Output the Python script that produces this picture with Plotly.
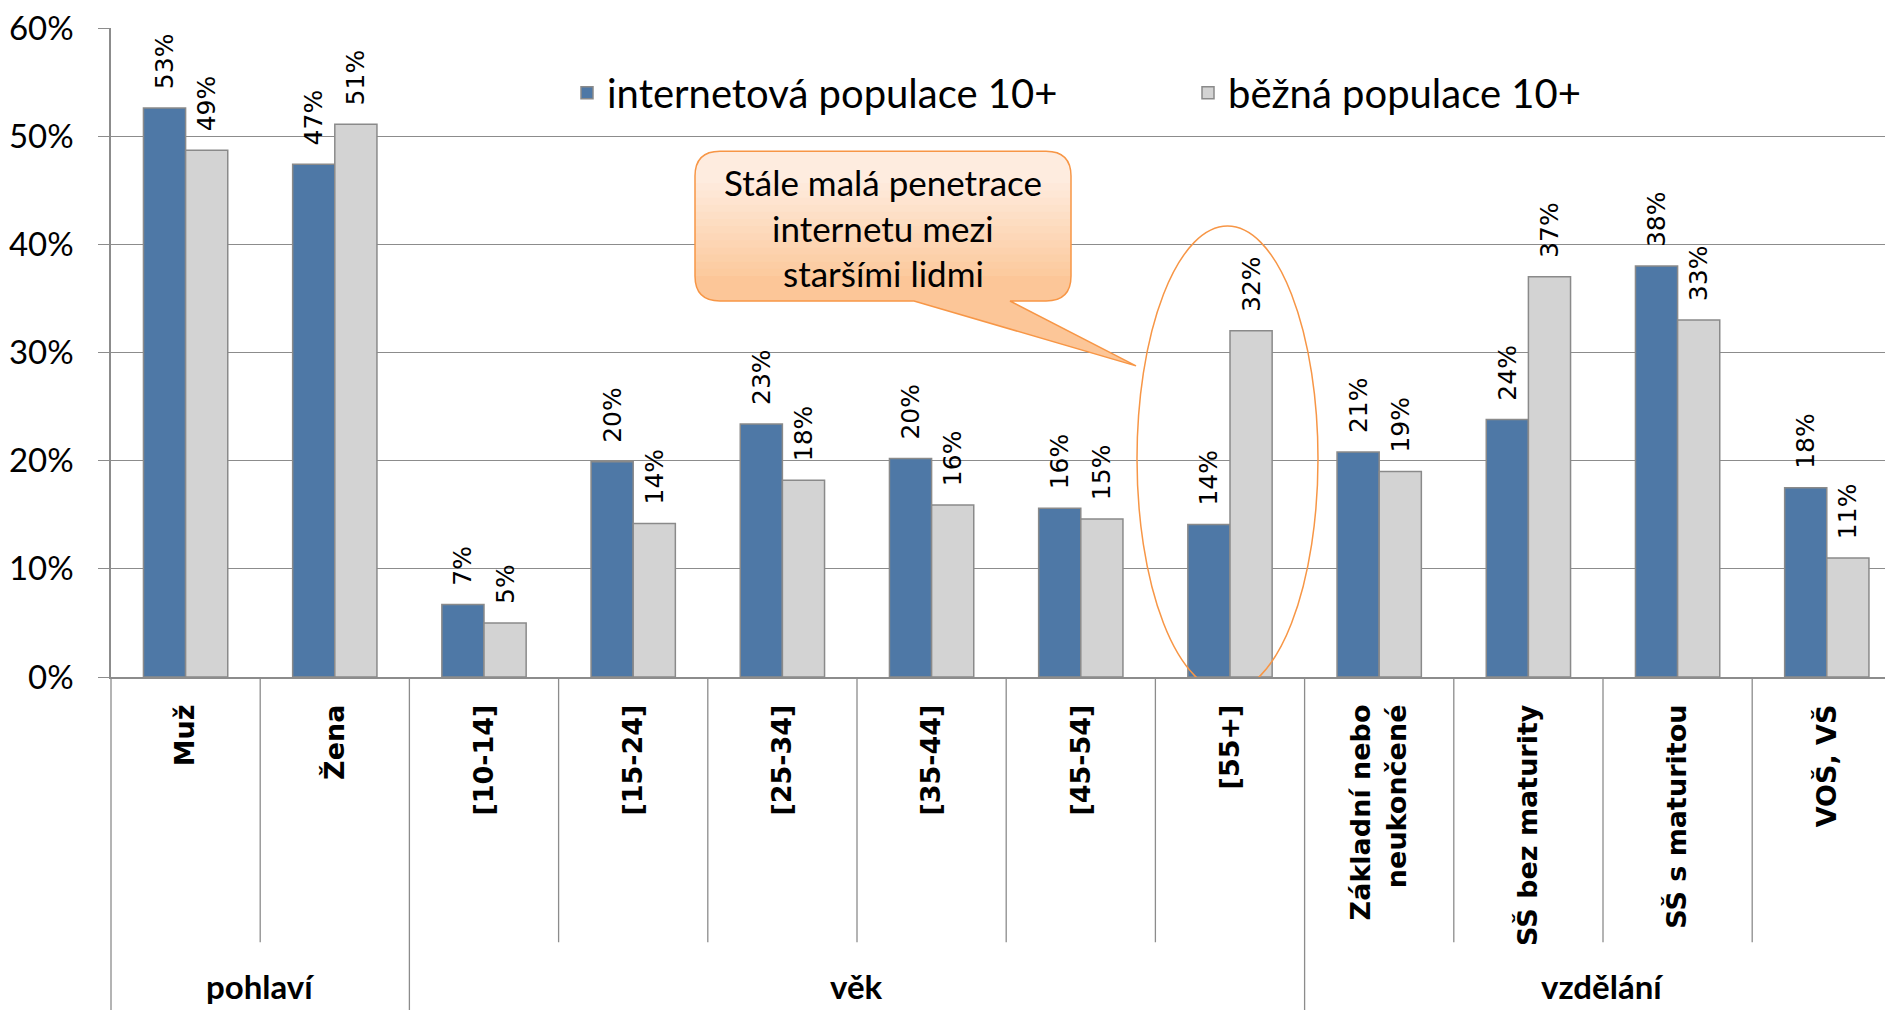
import plotly.graph_objects as go

# categories and values
categories = ["Muž", "Žena", "[10-14]", "[15-24]", "[25-34]", "[35-44]", "[45-54]", "[55+]",
              "Základní nebo<br>neukončené", "SŠ bez maturity", "SŠ s maturitou", "VOŠ, VŠ"]
internet_pop = [0.526, 0.474, 0.067, 0.199, 0.234, 0.202, 0.156, 0.141, 0.208, 0.238, 0.380, 0.175]
general_pop = [0.487, 0.511, 0.050, 0.142, 0.182, 0.159, 0.146, 0.320, 0.190, 0.370, 0.330, 0.110]
series_names = ["internetová populace 10+", "běžná populace 10+"]
groups = ["pohlaví", "věk", "vzdělání"]
group_spans = [(0, 1), (2, 7), (8, 11)]
callout_lines = ["Stále malá penetrace", "internetu mezi", "staršími lidmi"]

W, H = 1885, 1011
L, B, T = 111, 677.5, 27.7
CW = 149.2                       # px per category
X_MAX = (W - L) / CW - 0.5
Y_MAX = 0.6
PPU = (B - T) / Y_MAX


def X(p):
    return (p - L) / CW - 0.5


def Y(p):
    return (B - p) / PPU


def PY(p):
    # pixel row -> paper y
    return (B - p) / (B - T)


label_font = dict(family="DejaVu Sans", size=25, color="black")

fig = go.Figure()
fig.add_trace(go.Bar(
    x=categories, y=internet_pop, name=series_names[0],
    marker=dict(color="#4E78A6", line=dict(color="#8A8A8A", width=1.5)),
    texttemplate="\u00a0\u00a0%{y:.0%}", textposition="outside", textangle=-90,
    textfont=label_font, constraintext="none", cliponaxis=False,
))
fig.add_trace(go.Bar(
    x=categories, y=general_pop, name=series_names[1],
    marker=dict(color="#D3D3D3", line=dict(color="#8A8A8A", width=1.5)),
    texttemplate="\u00a0\u00a0%{y:.0%}", textposition="outside", textangle=-90,
    textfont=label_font, constraintext="none", cliponaxis=False,
))

shapes = []
grey = "#8C8C8C"

# category separators below the axis (multi-level category axis look)
n_cat = len(categories)
for b in range(0, n_cat + 1):
    bottom = H if b in (0, 2, 8, 12) else 943
    xp = b / (X_MAX + 0.5)
    if xp > 1:
        continue
    shapes.append(dict(type="line", xref="paper", yref="paper", x0=xp, x1=xp,
                       y0=0, y1=PY(bottom), line=dict(color=grey, width=1.3), layer="above"))

# callout box with gradient
left, right, top, bot, r = 695, 1071, 151, 301, 25
tip = (1136, 366)
base0, base1 = 914, 1010


def pt(px, py):
    return f"{X(px):.5f},{Y(py):.5f}"


outline = (f"M{pt(left + r, top)} L{pt(right - r, top)} Q{pt(right, top)} {pt(right, top + r)} "
           f"L{pt(right, bot - r)} Q{pt(right, bot)} {pt(right - r, bot)} L{pt(base1, bot)} "
           f"L{pt(*tip)} L{pt(base0, bot)} L{pt(left + r, bot)} Q{pt(left, bot)} {pt(left, bot - r)} "
           f"L{pt(left, top + r)} Q{pt(left, top)} {pt(left + r, top)} Z")
shapes.append(dict(type="path", path=outline, xref="x", yref="y", fillcolor="#FCC698",
                   line=dict(width=0), layer="above"))

c_top = (254, 236, 223)
c_bot = (252, 200, 154)
n = 14
ys = [bot - r - i * ((bot - r) - (top + r)) / n for i in range(n)]
for i, yb in enumerate(ys):
    f = (i + 1) / n
    col = tuple(round(c_bot[k] + (c_top[k] - c_bot[k]) * f) for k in range(3))
    p = (f"M{pt(left, yb)} L{pt(left, top + r)} Q{pt(left, top)} {pt(left + r, top)} "
         f"L{pt(right - r, top)} Q{pt(right, top)} {pt(right, top + r)} L{pt(right, yb)} Z")
    shapes.append(dict(type="path", path=p, xref="x", yref="y",
                       fillcolor="rgb(%d,%d,%d)" % col, line=dict(width=0), layer="above"))
shapes.append(dict(type="path", path=outline, xref="x", yref="y",
                   line=dict(color="#F79646", width=1.5), layer="above"))

# ellipse around [55+]
shapes.append(dict(type="circle", xref="x", yref="y", x0=X(1137), x1=X(1318), y0=Y(692), y1=Y(226),
                   line=dict(color="#F79646", width=1.5), layer="above"))

annotations = []
for g, (a, b) in zip(groups, group_spans):
    annotations.append(dict(x=(a + b + 1) / 2 / (X_MAX + 0.5), y=PY(987), xref="paper", yref="paper",
                            text=g, showarrow=False,
                            font=dict(family="Lato", size=33, color="black", weight="bold"),
                            yanchor="middle", xanchor="center", borderpad=0))
for line, py in zip(callout_lines, [182, 228, 273]):
    annotations.append(dict(x=X((left + right) / 2), y=Y(py), xref="x", yref="y", text=line,
                            showarrow=False, font=dict(family="Lato", size=35, color="black"),
                            yanchor="middle"))

fig.update_layout(
    width=W, height=H,
    margin=dict(l=L, r=0, t=T, b=H - B, autoexpand=False),
    plot_bgcolor="white", paper_bgcolor="white",
    barmode="group", bargap=0.435, bargroupgap=0,
    showlegend=True,
    legend=dict(orientation="h", x=(567 - L) / (W - L), y=PY(92.5), xref="paper", yref="paper",
                xanchor="left", yanchor="middle", font=dict(family="Lato", size=40, color="black"),
                entrywidth=576, bgcolor="rgba(0,0,0,0)"),
    xaxis=dict(range=[-0.5, X_MAX], showgrid=False, showline=True, linecolor=grey, linewidth=1.5,
               ticks="", tickangle=-90, ticklabelstandoff=15,
               tickfont=dict(family="DejaVu Sans", size=27, color="black", weight="bold")),
    yaxis=dict(range=[0, Y_MAX], dtick=0.1, tickformat=".0%", showgrid=True, gridcolor=grey,
               gridwidth=1.3, showline=True, linecolor=grey, linewidth=1.5, ticks="outside",
               ticklen=11, tickcolor=grey, tickwidth=1.3, zeroline=False, ticklabelstandoff=18,
               tickfont=dict(family="Lato", size=33, color="black")),
    shapes=shapes, annotations=annotations,
)

fig.write_html("out.html", config={"displayModeBar": False},
               post_script="document.body.style.margin='0px';")
